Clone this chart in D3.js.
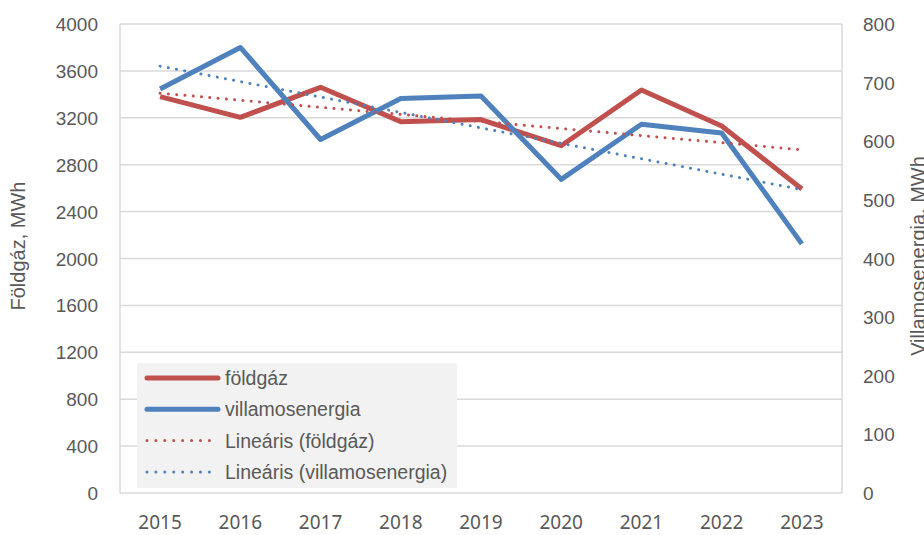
<!DOCTYPE html>
<html>
<head>
<meta charset="utf-8">
<script src="https://cdn.jsdelivr.net/npm/d3@7"></script>
<style>
    body { margin: 0; background: #fff; }
    svg { display: block; }
    .tick-label { font-family: "Liberation Sans", Arial, sans-serif; font-size: 19px; fill: #595959; }
    .year-label { font-family: "Noto Sans", "Open Sans", sans-serif; font-size: 19px; fill: #595959; }
    .axis-title { font-family: "Liberation Sans", Arial, sans-serif; font-size: 20px; fill: #595959; }
    .legend-text { font-family: "Liberation Sans", Arial, sans-serif; font-size: 19.5px; fill: #595959; }
</style>
</head>
<body>
<div id="chart"></div>
<script>
// Data
let years = ["2015", "2016", "2017", "2018", "2019", "2020", "2021", "2022", "2023"];
let foldgaz = [3380, 3204, 3460, 3167, 3185, 2962, 3437, 3130, 2593];
let villamos = [689, 760, 603, 673, 677, 535, 629, 614, 425];
let leftTicks = [0, 400, 800, 1200, 1600, 2000, 2400, 2800, 3200, 3600, 4000];
let rightTicks = [0, 100, 200, 300, 400, 500, 600, 700, 800];
let legendItems = ["földgáz", "villamosenergia", "Lineáris (földgáz)", "Lineáris (villamosenergia)"];

let red = "#C0504D";
let blue = "#4F81BD";
let grid = "#d9d9d9";

// SVG Setup Details
let width = 924, height = 535;
let plot = {"left": 120, "right": 842, "top": 24, "bottom": 493};

let svg = d3.select("#chart").append("svg")
    .attr("width", width)
    .attr("height", height);

let x = d3.scalePoint().domain(years).range([plot.left, plot.right]).padding(0.5);
let yLeft = d3.scaleLinear().domain([0, 4000]).range([plot.bottom, plot.top]);
let yRight = d3.scaleLinear().domain([0, 800]).range([plot.bottom, plot.top]);

// linear trend (least squares, like the Excel trendline)
function trend(values){
    let mx = d3.mean(values, (d, i) => i);
    let my = d3.mean(values);
    let num = d3.sum(values, (d, i) => (i - mx) * (d - my));
    let den = d3.sum(values, (d, i) => (i - mx) * (i - mx));
    let slope = num / den;
    return values.map((d, i) => my + slope * (i - mx));
}

// gridlines
svg.append("g").selectAll("line")
    .data(leftTicks)
    .enter().append("line")
    .attr("x1", plot.left).attr("x2", plot.right)
    .attr("y1", d => yLeft(d)).attr("y2", d => yLeft(d))
    .attr("stroke", grid).attr("stroke-width", 1.5);

svg.append("line")
    .attr("x1", plot.left).attr("x2", plot.left)
    .attr("y1", plot.top).attr("y2", plot.bottom)
    .attr("stroke", grid).attr("stroke-width", 1.5);
svg.append("line")
    .attr("x1", plot.right).attr("x2", plot.right)
    .attr("y1", plot.top).attr("y2", plot.bottom)
    .attr("stroke", grid).attr("stroke-width", 1.5);

// left axis labels
svg.append("g").selectAll("text")
    .data(leftTicks)
    .enter().append("text")
    .attr("class", "tick-label")
    .attr("x", 98)
    .attr("y", d => yLeft(d) + 7)
    .attr("text-anchor", "end")
    .text(d => d);

// right axis labels
svg.append("g").selectAll("text")
    .data(rightTicks)
    .enter().append("text")
    .attr("class", "tick-label")
    .attr("x", 863)
    .attr("y", d => yRight(d) + 7)
    .attr("text-anchor", "start")
    .text(d => d);

// year labels
svg.append("g").selectAll("text")
    .data(years)
    .enter().append("text")
    .attr("class", "year-label")
    .attr("x", d => x(d))
    .attr("y", 529)
    .attr("text-anchor", "middle")
    .text(d => d);

// axis titles
svg.append("text")
    .attr("class", "axis-title")
    .attr("transform", "translate(25, 246) rotate(-90)")
    .attr("text-anchor", "middle")
    .text("Földgáz, MWh");

svg.append("text")
    .attr("class", "axis-title")
    .attr("transform", "translate(925, 256) rotate(-90)")
    .attr("text-anchor", "middle")
    .text("Villamosenergia, MWh");

// Lines
let lineLeft = d3.line().x((d, i) => x(years[i])).y(d => yLeft(d));
let lineRight = d3.line().x((d, i) => x(years[i])).y(d => yRight(d));

let series = [
    {"values": foldgaz, "line": lineLeft, "color": red},
    {"values": villamos, "line": lineRight, "color": blue}
];

series.forEach(s => {
    svg.append("path")
        .datum(s.values)
        .attr("d", s.line)
        .attr("fill", "none")
        .attr("stroke", s.color)
        .attr("stroke-width", 5)
        .attr("stroke-linejoin", "round");
});

series.forEach(s => {
    svg.append("path")
        .datum(trend(s.values))
        .attr("d", s.line)
        .attr("fill", "none")
        .attr("stroke", s.color)
        .attr("stroke-width", 3)
        .attr("stroke-linecap", "round")
        .attr("stroke-dasharray", "0.01 8.3");
});

// Legend
let legend = svg.append("g").attr("transform", "translate(137, 363)");
legend.append("rect")
    .attr("width", 320)
    .attr("height", 125)
    .attr("fill", "#f2f2f2");

let legendRows = legend.selectAll(".legend")
    .data(legendItems)
    .enter().append("g")
    .attr("class", "legend")
    .attr("transform", (d, i) => "translate(0, " + (15 + i * 31.3) + ")");

legendRows.append("line")
    .attr("x1", 10).attr("x2", 81)
    .attr("y1", 0).attr("y2", 0)
    .attr("stroke", (d, i) => i % 2 === 0 ? red : blue)
    .attr("stroke-width", (d, i) => i < 2 ? 5 : 3)
    .attr("stroke-linecap", "round")
    .attr("stroke-dasharray", (d, i) => i < 2 ? null : "0.01 8.9");

legendRows.append("text")
    .attr("class", "legend-text")
    .attr("x", 88)
    .attr("y", 7)
    .text(d => d);
</script>
</body>
</html>
